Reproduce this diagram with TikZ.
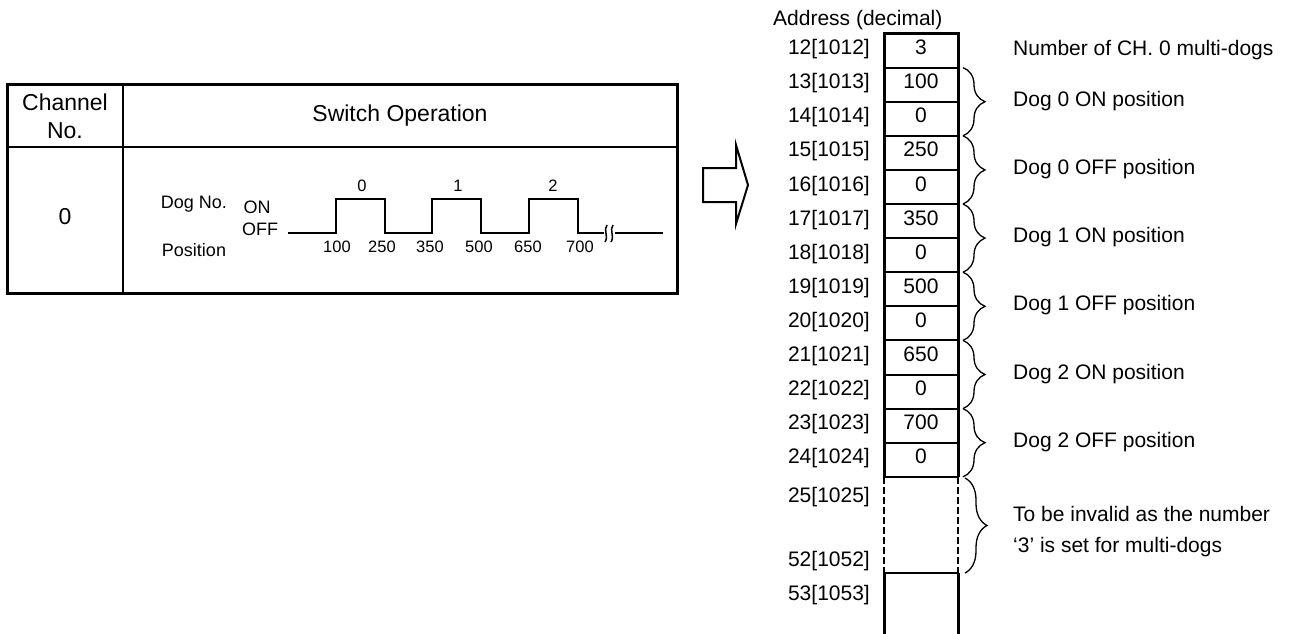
\documentclass[tikz,border=0pt]{standalone}
\usepackage{fontspec}
\setmainfont{Liberation Sans}
\usetikzlibrary{decorations.pathreplacing}
\begin{document}
\begin{tikzpicture}[x=1pt,y=-1pt,
  big/.style={font=\fontsize{21}{28}\selectfont, inner sep=0pt},
  tab/.style={font=\fontsize{23}{28}\selectfont, inner sep=0pt},
  small/.style={font=\fontsize{18}{21}\selectfont, inner sep=0pt},
  num/.style={font=\fontsize{16.5}{19}\selectfont, inner sep=0pt},
  thickline/.style={line width=3pt},
  cellline/.style={line width=2pt},
  wave/.style={line width=2pt},
  bracestyle/.style={decorate, decoration={brace, amplitude=22pt}, line width=1.3pt},
]
\useasboundingbox (0,0) rectangle (1293,634);

% ---------- left table ----------
\draw[thickline] (7,84) rectangle (677,293);
\draw[line width=2.5pt] (7,147) -- (677,147);
\draw[cellline] (123,84) -- (123,293);
\node[tab, align=center] (chan) at (65,116) {Channel\\No.};
\node[tab, anchor=mid] (sw) at (400,119) {Switch Operation};
\node[tab, anchor=mid] (ch0) at (65,222) {0};

\node[small, anchor=mid] (dogno) at (194,206) {Dog No.};
\node[small, anchor=mid] (on) at (257,211) {ON};
\node[small, anchor=mid] (off) at (260,233) {OFF};
\node[small, anchor=mid] (pos) at (194,254) {Position};

\draw[wave] (288,233) -- (336,233) -- (336,199) -- (385,199) -- (385,233)
  -- (432,233) -- (432,199) -- (481,199) -- (481,233)
  -- (529,233) -- (529,199) -- (578,199) -- (578,233) -- (604,233);
\draw[wave] (615,233) -- (663,233);
\draw[line width=1.5pt] (607,225) .. controls (603,230) and (609,236) .. (605,242);
\draw[line width=1.5pt] (613,225) .. controls (609,230) and (615,236) .. (611,242);

\foreach \t/\x in {100/337,250/382,350/430,500/479,650/528,700/580}
  \node[num, anchor=mid] (p\t) at (\x,250) {\t};
\foreach \t/\x in {0/362,1/458,2/553}
  \node[num, anchor=mid] (d\t) at (\x,189) {\t};

% ---------- arrow ----------
\draw[cellline, line join=miter] (703,168) -- (736,168) -- (736,145) -- (748,185)
  -- (736,224) -- (736,202) -- (703,202) -- cycle;

% ---------- memory column ----------
\node[big, anchor=mid west] (addr) at (773,23) {Address (decimal)};
\foreach \a/\v [count=\k from 0] in {12/3,13/100,14/0,15/250,16/0,17/350,18/0,19/500,20/0,21/650,22/0,23/700,24/0} {
  \pgfmathsetmacro\yc{33.5+34.1*\k+18.5}
  \node[big, anchor=mid east] (a\a) at (870,\yc) {\a[10\a]};
  \node[big, anchor=mid] (v\a) at (921,\yc) {\v};
}
\foreach \k in {1,...,12} {
  \pgfmathsetmacro\yy{33.5+34.1*\k}
  \draw[cellline] (884,\yy) -- (958,\yy);
}
\draw[thickline, line join=miter] (884,476.8) -- (884,33.5) -- (958,33.5) -- (958,476.8);
\draw[cellline] (884,476.8) -- (958,476.8);
\draw[cellline] (884,573) -- (958,573);
\draw[line width=1.2pt, dash pattern=on 7pt off 3pt] (884,476.8) -- (884,573);
\draw[line width=1.2pt, dash pattern=on 7pt off 3pt] (958,476.8) -- (958,573);
\draw[thickline] (884,573) -- (884,634);
\draw[thickline] (958,573) -- (958,634);

\node[big, anchor=mid east] (a25) at (870,500) {25[1025]};
\node[big, anchor=mid east] (a52) at (870,564) {52[1052]};
\node[big, anchor=mid east] (a53) at (870,598) {53[1053]};

% ---------- right descriptions ----------
\node[big, anchor=mid west] (n0) at (1013,52.5) {Number of CH. 0 multi-dogs};
\foreach \lab [count=\k] in {Dog 0 ON position,Dog 0 OFF position,Dog 1 ON position,Dog 1 OFF position,Dog 2 ON position,Dog 2 OFF position} {
  \pgfmathsetmacro\yt{33.5+34.1*(2*\k-1)}
  \pgfmathsetmacro\yb{33.5+34.1*(2*\k+1)}
  \pgfmathsetmacro\ym{33.5+34.1*(2*\k)}
  \coordinate (bt\k) at (963,\yt);
  \coordinate (bb\k) at (963,\yb);
  \draw[bracestyle] (bt\k) -- (bb\k);
  \node[big, anchor=mid west] (lab\k) at (1013,\ym+2) {\lab};
}
\coordinate (btx) at (965,478);
\coordinate (bbx) at (965,573);
\draw[bracestyle] (btx) -- (bbx);
\node[big, anchor=mid west] (inv1) at (1013,519) {To be invalid as the number};
\node[big, anchor=mid west] (inv2) at (1013,550) {‘3’ is set for multi-dogs};
\end{tikzpicture}
\end{document}
